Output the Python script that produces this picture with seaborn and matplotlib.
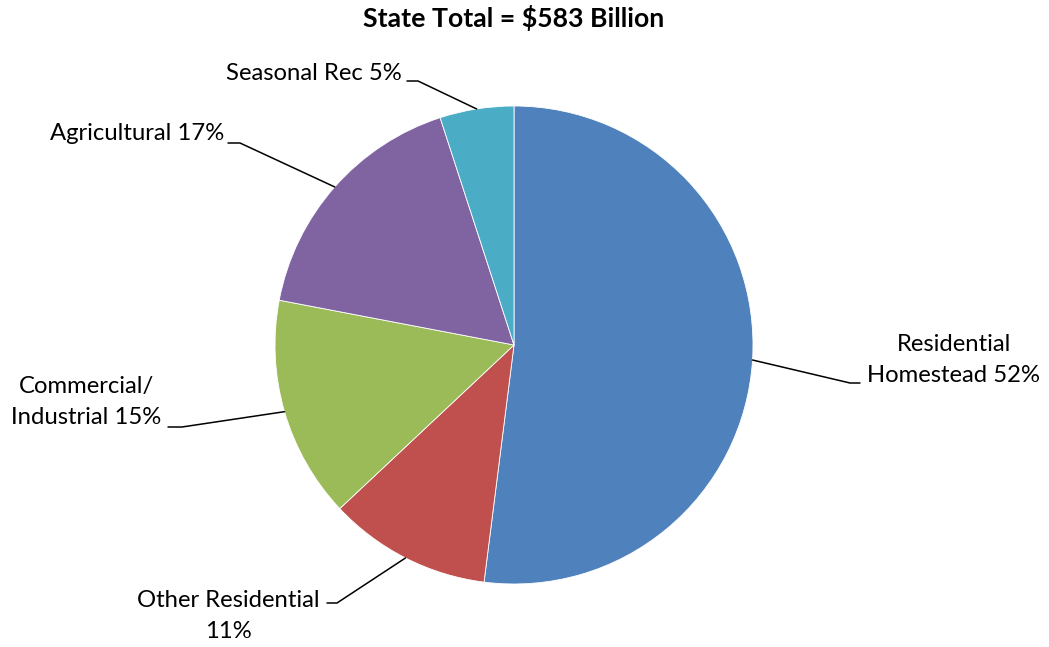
import matplotlib
matplotlib.use("Agg")
import matplotlib.pyplot as plt
import numpy as np
import seaborn as sns

# Market value share by property class
categories = ["Residential\nHomestead", "Other Residential", "Commercial/\nIndustrial",
              "Agricultural", "Seasonal Rec"]
shares = [52, 11, 15, 17, 5]
label_texts = ["Residential\nHomestead 52%", "Other Residential\n11%",
               "Commercial/\nIndustrial 15%", "Agricultural 17%", "Seasonal Rec 5%"]
colors = ["#4F81BD", "#C0504D", "#9BBB59", "#8064A2", "#4BACC6"]
title = "State Total = $583 Billion"

sns.set_theme(style="white")
plt.rcParams["font.family"] = ["Lato", "DejaVu Sans"]

W, H = 1049, 647
fig = plt.figure(figsize=(W / 100, H / 100), dpi=100)
cx, cy, R = 514, 345, 239
ax = fig.add_axes([(cx - R) / W, (H - cy - R) / H, 2 * R / W, 2 * R / H])

wedges, _ = ax.pie(shares, colors=sns.color_palette(colors), startangle=90,
                   counterclock=False, radius=1,
                   wedgeprops=dict(edgecolor="white", linewidth=0.6))
ax.set_xlim(-1, 1)
ax.set_ylim(-1, 1)
ax.set_axis_off()


def to_data(px, py):
    return (px - cx) / R, (cy - py) / R


# label layout: (elbow pixel, line-end pixel, text anchor pixel, ha)
layout = [
    ((850, 383), (860, 383), (954, 360), "center"),
    ((337, 603), (327, 603), (228, 616), "center"),
    ((182, 427), (168, 427), (86, 402), "center"),
    ((240, 143), (228, 143), (224, 134), "right"),
    ((418, 81), (407, 81), (402, 74), "right"),
]

for w, txt, (elbow, end, anchor, ha) in zip(wedges, label_texts, layout):
    ang = np.deg2rad((w.theta1 + w.theta2) / 2)
    ex, ey = np.cos(ang), np.sin(ang)
    bx, by = to_data(*elbow)
    qx, qy = to_data(*end)
    ax.plot([ex, bx, qx], [ey, by, qy], color="black", lw=1.1,
            clip_on=False, solid_joinstyle="miter")
    tx, ty = to_data(*anchor)
    ax.text(tx, ty, txt, ha=ha, va="center", fontsize=17.2, color="black",
            linespacing=1.55, multialignment="center", clip_on=False)

fig.text(cx / W, 1 - 18 / H, title, ha="center", va="center",
         fontsize=19.2, fontweight="bold", color="black")

fig.savefig("out.png", dpi=100, facecolor="white")
